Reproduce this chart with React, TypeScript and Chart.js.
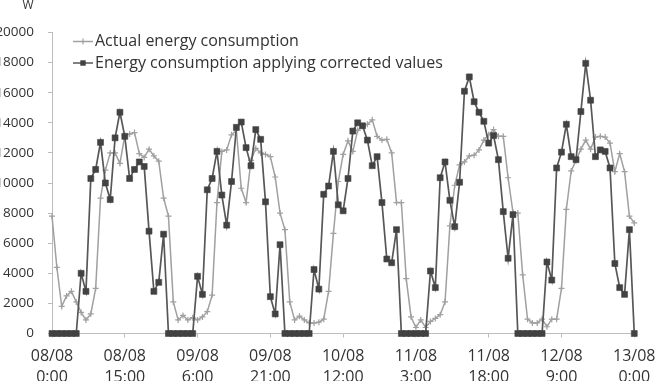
import { useEffect, useRef } from 'react';
import { Chart, registerables } from 'chart.js';

Chart.register(...registerables);

// Hourly samples from 08/08 0:00 to 13/08 0:00
const hours: number[] = Array.from({ length: 121 }, (_, i) => i);

const actualConsumption: number[] = [
  7800, 4400, 1800, 2500, 2800, 2100, 1400, 900, 1300, 3000,
  9000, 10850, 12000, 12000, 11300, 13150, 13250, 13350, 11950, 11700,
  12250, 11800, 11450, 9000, 7800, 2100, 900, 1200, 900, 1050,
  900, 1100, 1450, 2550, 8700, 12100, 12200, 13200, 13500, 9650,
  8700, 11500, 12300, 12000, 11900, 11750, 10400, 8000, 6900, 2100,
  900, 1150, 900, 700, 700, 750, 950, 2800, 6650, 10100,
  11900, 12800, 12100, 13500, 13800, 13900, 14200, 13100, 12850, 12900,
  12000, 8700, 8700, 3650, 1100, 400, 900, 400, 800, 1000,
  1250, 2100, 7150, 9850, 11200, 11400, 11800, 11850, 12200, 12850,
  13200, 13550, 13100, 13100, 10350, 8050, 8000, 3900, 950, 700,
  700, 950, 450, 950, 950, 3000, 8250, 10800, 11500, 12250,
  12850, 12250, 13050, 13100, 13050, 12650, 10750, 11950, 10750, 7800,
  7350,
];

const correctedConsumption: number[] = [
  0, 0, 0, 0, 0, 0, 4000, 2800, 10300, 10900,
  12700, 10000, 8900, 13000, 14700, 13100, 10300, 10900, 11400, 11100,
  6800, 2800, 3400, 6600, 0, 0, 0, 0, 0, 0,
  3800, 2600, 9550, 10300, 12100, 9200, 7200, 10100, 13700, 14050,
  12350, 11150, 13550, 12900, 8750, 2450, 1300, 5900, 0, 0,
  0, 0, 0, 0, 4250, 2950, 9250, 9800, 12100, 8550,
  8150, 10300, 13450, 14000, 13800, 12850, 11150, 11750, 8700, 4950,
  4700, 6900, 0, 0, 0, 0, 0, 0, 4150, 3050,
  10350, 11400, 8850, 7100, 10050, 16100, 17050, 15400, 14700, 14100,
  12650, 13150, 11550, 8100, 5000, 7900, 0, 0, 0, 0,
  0, 0, 4750, 3550, 11000, 12050, 13900, 11750, 11550, 14750,
  17950, 15500, 11750, 12200, 12100, 11000, 4650, 3050, 2600, 6900,
  0,
];

// Axis labels, one per 15-hour step
const tickDates: string[] = ['08/08', '08/08', '09/08', '09/08', '10/08', '11/08', '11/08', '12/08', '13/08'];
const tickTimes: string[] = ['0:00', '15:00', '6:00', '21:00', '12:00', '3:00', '18:00', '9:00', '0:00'];

const seriesNames: string[] = ['Actual energy consumption', 'Energy consumption applying corrected values'];
const unitLabel = 'W';

const FONT = '"Open Sans", "DejaVu Sans", sans-serif';
const LIGHT = '#a0a0a0';
const DARK = '#575757';
const DARK_MARK = '#424242';
const AXIS = '#bdbdbd';
const TEXT = '#333333';

const legendPlugin = {
  id: 'insetLegend',
  afterDraw(chart: Chart) {
    const ctx = chart.ctx;
    ctx.save();
    // unit label above the value axis
    ctx.fillStyle = TEXT;
    ctx.font = `12px ${FONT}`;
    ctx.textAlign = 'center';
    ctx.textBaseline = 'middle';
    ctx.fillText(unitLabel, 28, 5.5);

    const rows = [
      { y: 41.5, color: LIGHT, kind: 'cross' },
      { y: 63, color: DARK, kind: 'rect' },
    ];
    rows.forEach((row, i) => {
      ctx.strokeStyle = row.color;
      ctx.lineWidth = 1.5;
      ctx.beginPath();
      ctx.moveTo(73, row.y);
      ctx.lineTo(93, row.y);
      ctx.stroke();
      if (row.kind === 'cross') {
        ctx.lineWidth = 1.2;
        ctx.beginPath();
        ctx.moveTo(83, row.y - 3);
        ctx.lineTo(83, row.y + 3);
        ctx.moveTo(80, row.y);
        ctx.lineTo(86, row.y);
        ctx.stroke();
      } else {
        ctx.fillStyle = DARK_MARK;
        ctx.fillRect(80.3, row.y - 2.7, 5.4, 5.4);
      }
      ctx.fillStyle = TEXT;
      ctx.font = `16px ${FONT}`;
      ctx.textAlign = 'left';
      ctx.textBaseline = 'middle';
      ctx.fillText(seriesNames[i], 95, row.y);
    });
    ctx.restore();
  },
};

export default function App() {
  const canvasRef = useRef<HTMLCanvasElement | null>(null);

  useEffect(() => {
    if (!canvasRef.current) return;
    const chart = new Chart(canvasRef.current, {
      type: 'line',
      data: {
        datasets: [
          {
            label: seriesNames[0],
            data: hours.map((h, i) => ({ x: h, y: actualConsumption[i] })),
            borderColor: LIGHT,
            borderWidth: 1.5,
            pointStyle: 'cross',
            pointRadius: 3,
            pointBorderColor: LIGHT,
            pointBorderWidth: 1.2,
            tension: 0,
            clip: false as any,
            order: 1,
          },
          {
            label: seriesNames[1],
            data: hours.map((h, i) => ({ x: h, y: correctedConsumption[i] })),
            borderColor: DARK,
            borderWidth: 1.7,
            pointStyle: 'rect',
            pointRadius: 4.2,
            pointBackgroundColor: DARK_MARK,
            pointBorderColor: DARK_MARK,
            pointBorderWidth: 0.6,
            tension: 0,
            clip: false as any,
            order: 0,
          },
        ],
      },
      options: {
        responsive: false,
        animation: false,
        layout: { padding: { top: 32.5, right: 24, left: 0, bottom: 0 } },
        plugins: {
          legend: { display: false },
          tooltip: { enabled: false },
        },
        scales: {
          x: {
            type: 'linear',
            min: 0,
            max: 120,
            afterFit: (scale: any) => {
              scale.height = 47.5;
            },
            ticks: {
              stepSize: 15,
              autoSkip: false,
              maxRotation: 0,
              padding: 8.5,
              color: TEXT,
              font: { family: FONT, size: 16, lineHeight: 1.3 },
              callback: (value: any) => {
                const i = Math.round(Number(value) / 15);
                return [tickDates[i], tickTimes[i]];
              },
            },
            grid: {
              display: true,
              drawOnChartArea: false,
              drawTicks: true,
              tickLength: 4,
              color: AXIS,
            },
            border: { display: true, color: AXIS, width: 1 },
          },
          y: {
            min: 0,
            max: 20000,
            afterFit: (scale: any) => {
              scale.width = 52;
            },
            ticks: {
              stepSize: 2000,
              padding: 14,
              color: TEXT,
              font: { family: FONT, size: 13.5 },
              callback: (value: any) => String(value),
            },
            grid: {
              display: true,
              drawOnChartArea: false,
              drawTicks: true,
              tickLength: 4,
              color: AXIS,
            },
            border: { display: true, color: AXIS, width: 1 },
          },
        },
      },
      plugins: [legendPlugin],
    });
    return () => chart.destroy();
  }, []);

  return (
    <div style={{ position: 'fixed', left: 0, top: 0, width: 664, height: 381, background: '#fff' }}>
      <canvas ref={canvasRef} width={664} height={381} style={{ display: 'block' }} />
    </div>
  );
}
